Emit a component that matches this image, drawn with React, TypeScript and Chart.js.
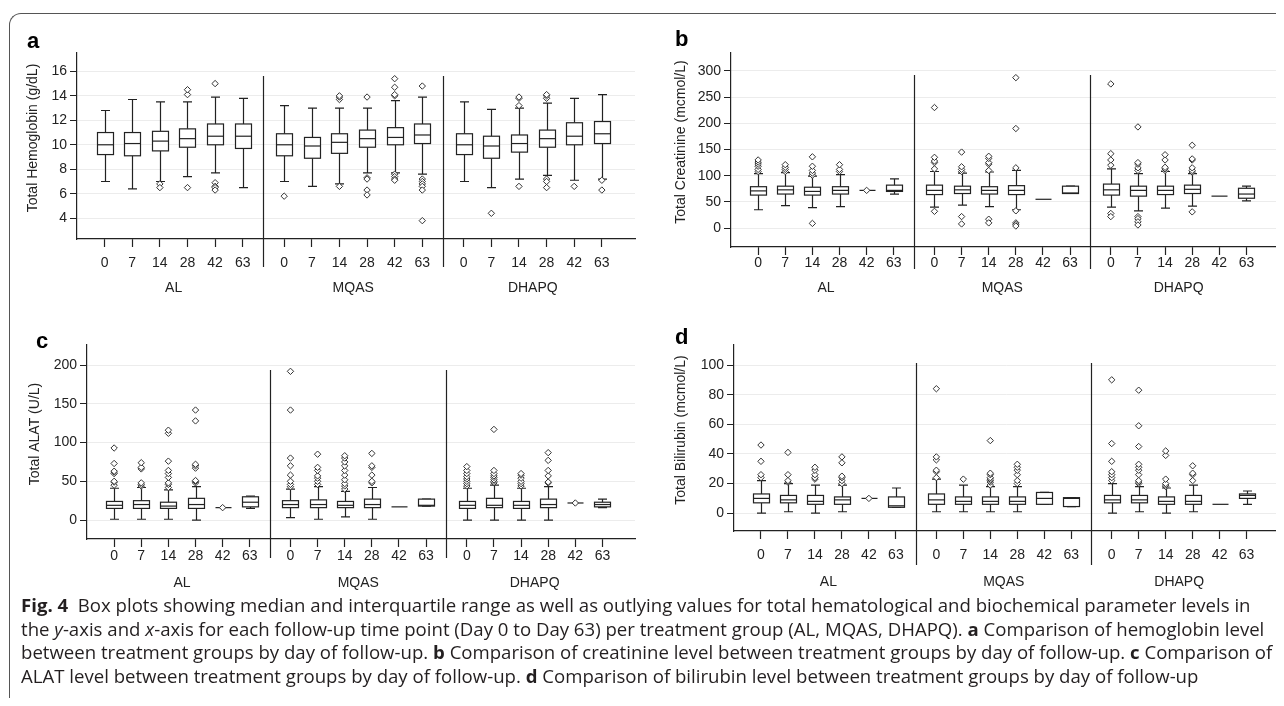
import React, { useEffect, useRef } from "react";
import { Chart, registerables } from "chart.js";

Chart.register(...registerables);

const days = ["0", "7", "14", "28", "42", "63"];
const groups = ["AL", "MQAS", "DHAPQ"];

// [min, q1, median, q3, max] for AL 0..63, MQAS 0..63, DHAPQ 0..63
const hemoglobinBoxes = [
  [7.0, 9.2, 10.0, 11.0, 12.8], [6.4, 9.1, 10.1, 11.0, 13.7], [7.0, 9.5, 10.3, 11.1, 13.5],
  [7.4, 9.8, 10.5, 11.3, 13.5], [7.7, 10.0, 10.7, 11.7, 13.9], [6.5, 9.7, 10.7, 11.7, 13.8],
  [7.0, 9.1, 10.0, 10.9, 13.2], [6.6, 8.9, 9.9, 10.6, 13.0], [6.8, 9.3, 10.2, 10.9, 13.0],
  [7.7, 9.8, 10.5, 11.2, 13.0], [7.7, 10.0, 10.6, 11.4, 13.6], [7.6, 10.1, 10.8, 11.7, 13.9],
  [7.0, 9.2, 10.0, 10.9, 13.5], [6.5, 8.9, 9.9, 10.7, 12.9], [7.2, 9.4, 10.1, 10.8, 13.0],
  [7.5, 9.8, 10.5, 11.2, 13.4], [7.1, 10.0, 10.7, 11.8, 13.8], [7.2, 10.1, 10.9, 11.9, 14.1],
];
const hemoglobinOutliers = [
  [], [], [6.8, 6.5], [14.1, 14.5, 6.5], [15.0, 6.9, 6.6, 6.5, 6.3], [],
  [5.8], [], [13.7, 13.9, 14.0, 6.6], [13.9, 7.3, 7.2, 6.3, 5.9], [14.0, 14.1, 14.7, 15.4, 7.6, 7.4, 7.2, 7.1], [14.8, 7.2, 7.0, 6.8, 6.6, 6.3, 3.8],
  [], [4.4], [13.2, 13.8, 13.9, 6.6], [13.8, 14.0, 14.1, 7.2, 7.0, 6.5], [6.6], [7.1, 6.3],
];

const creatinineBoxes = [
  [35, 63, 71, 79, 104], [43, 65, 73, 80, 106], [39, 63, 70, 78, 99],
  [41, 65, 72, 79, 102], [72, 72, 72, 72, 72], [65, 70, 72, 82, 94],
  [40, 64, 72, 82, 108], [44, 66, 73, 80, 105], [41, 65, 72, 79, 107],
  [35, 64, 72, 81, 110], [55, 55, 55, 55, 55], [66, 66, 67, 80, 80],
  [40, 63, 73, 84, 113], [33, 61, 72, 80, 104], [38, 64, 72, 80, 108],
  [42, 66, 74, 82, 104], [61, 61, 61, 61, 61], [52, 57, 65, 76, 80],
];
const creatinineOutliers = [
  [108, 112, 118, 122, 126, 130], [108, 112, 116, 121], [101, 105, 110, 118, 136, 9], [108, 112, 121], [72], [],
  [113, 125, 128, 135, 230, 32], [108, 112, 117, 145, 22, 8], [110, 122, 125, 133, 137, 17, 10], [115, 190, 287, 33, 10, 7, 4], [], [],
  [120, 130, 142, 275, 28, 22], [110, 115, 122, 125, 193, 22, 18, 12, 6], [110, 113, 116, 130, 140], [107, 110, 115, 130, 132, 158, 31], [], [],
];

const alatBoxes = [
  [1, 15, 19, 24, 41], [1, 15, 20, 25, 42], [1, 15, 18, 23, 39],
  [0, 15, 20, 28, 43], [16, 16, 16, 16, 16], [15, 17, 23, 30, 31],
  [3, 16, 20, 25, 40], [1, 16, 20, 26, 43], [4, 16, 19, 24, 37],
  [1, 16, 20, 27, 42], [17, 17, 17, 17, 17], [18, 18, 19, 27, 27],
  [0, 15, 19, 24, 41], [0, 16, 19, 28, 45], [0, 15, 19, 24, 41],
  [0, 16, 20, 27, 43], [22, 22, 22, 22, 22], [16, 17, 20, 23, 27],
];
const alatOutliers = [
  [45, 49, 50, 60, 62, 63, 73, 93], [44, 46, 48, 66, 68, 74], [42, 46, 48, 55, 60, 64, 76, 112, 116], [48, 50, 51, 67, 70, 72, 128, 142], [16], [],
  [43, 46, 50, 58, 70, 80, 142, 192], [46, 50, 54, 57, 64, 68, 85], [40, 44, 47, 52, 58, 64, 70, 75, 80, 83], [48, 50, 58, 68, 70, 86], [], [],
  [44, 47, 50, 53, 56, 60, 64, 69], [48, 50, 52, 55, 57, 60, 64, 117], [44, 47, 50, 54, 58, 60], [48, 49, 57, 64, 77, 87], [22], [],
];

const bilirubinBoxes = [
  [0, 7, 10, 13, 22], [1, 7, 9, 12, 20], [0, 6, 8, 12, 19],
  [1, 6, 9, 11, 19], [10, 10, 10, 10, 10], [4, 4, 5, 11, 17],
  [1, 6, 9, 13, 23], [1, 6, 8, 11, 19], [1, 6, 8, 11, 18],
  [1, 6, 8, 11, 18], [6, 6, 10, 14, 14], [4.5, 4.5, 10, 10.5, 10.5],
  [0, 7, 9, 12, 20], [1, 7, 9, 12, 18], [0, 6, 8, 11, 17],
  [1, 6, 8, 12, 19], [6, 6, 6, 6, 6], [6, 10, 12, 13, 15],
];
const bilirubinOutliers = [
  [24, 26, 35, 46], [21, 22, 26, 41], [23, 24, 26, 29, 31], [20, 22, 24, 25, 34, 38], [10], [],
  [24, 28, 29, 36, 38, 84], [23], [19, 21, 22, 23, 24, 26, 27, 49], [20, 22, 26, 29, 31, 33], [], [],
  [22, 24, 26, 28, 35, 47, 90], [20, 21, 22, 26, 29, 31, 33, 45, 59, 83], [18, 19, 20, 23, 39, 42], [22, 26, 27, 32], [], [],
];

const xPos = (k: number) => Math.floor(k / 6) * 6.5 + (k % 6);

type Panel = {
  letter: string;
  title: string;
  boxes: number[][];
  outliers: number[][];
  yTicks: number[];
  yMin: number;
  yMax: number;
  left: number; top: number; width: number; height: number;
  pad: { left: number; top: number; right: number; bottom: number };
  tickGap: number;
  groupY: number;
  divTop: number;
  divBottom: number;
  letterX: number;
  letterY: number;
  titleOffset: number;
};

const panels: Panel[] = [
  {
    letter: "a", title: "Total Hemoglobin (g/dL)", boxes: hemoglobinBoxes, outliers: hemoglobinOutliers,
    yTicks: [4, 6, 8, 10, 12, 14, 16], yMin: 2.3, yMax: 17.5,
    left: 0, top: 0, width: 640, height: 300,
    pad: { left: 77, top: 53, right: 637, bottom: 239 }, tickGap: 16, groupY: 288, divTop: 76, divBottom: 267,
    letterX: 27, letterY: 42, titleOffset: 44,
  },
  {
    letter: "b", title: "Total Creatinine (mcmol/L)", boxes: creatinineBoxes, outliers: creatinineOutliers,
    yTicks: [0, 50, 100, 150, 200, 250, 300], yMin: -36, yMax: 334,
    left: 640, top: 0, width: 644, height: 300,
    pad: { left: 91, top: 53, right: 639, bottom: 247 }, tickGap: 8, groupY: 288, divTop: 75, divBottom: 269,
    letterX: 35, letterY: 40, titleOffset: 50,
  },
  {
    letter: "c", title: "Total ALAT (U/L)", boxes: alatBoxes, outliers: alatOutliers,
    yTicks: [0, 50, 100, 150, 200], yMin: -24.5, yMax: 226,
    left: 0, top: 320, width: 640, height: 280,
    pad: { left: 87, top: 25, right: 637, bottom: 219 }, tickGap: 9, groupY: 263, divTop: 50, divBottom: 238,
    letterX: 36, letterY: 22, titleOffset: 52,
  },
  {
    letter: "d", title: "Total Bilirubin (mcmol/L)", boxes: bilirubinBoxes, outliers: bilirubinOutliers,
    yTicks: [0, 20, 40, 60, 80, 100], yMin: -12, yMax: 113.5,
    left: 640, top: 320, width: 644, height: 280,
    pad: { left: 94, top: 25, right: 639, bottom: 211 }, tickGap: 16, groupY: 262, divTop: 43, divBottom: 245,
    letterX: 35, letterY: 18, titleOffset: 53,
  },
];

const FONT = "'Liberation Sans', Arial, sans-serif";
const INK = "#222";

const PanelChart = ({ p }: { p: Panel }) => {
  const ref = useRef<HTMLCanvasElement | null>(null);

  useEffect(() => {
    if (!ref.current) return;
    const points: { x: number; y: number }[] = [];
    p.outliers.forEach((list, k) => list.forEach((v) => points.push({ x: xPos(k), y: v })));

    const boxPlugin = {
      id: "boxes",
      beforeDatasetsDraw(chart: any) {
        const { ctx, scales, chartArea } = chart;
        const xs = scales.x;
        const ys = scales.y;
        ctx.save();
        ctx.strokeStyle = INK;
        ctx.lineWidth = 1.2;
        ctx.fillStyle = "#fff";
        const hw = 8;
        const cap = 4.5;
        p.boxes.forEach(([mn, q1, md, q3, mx], k) => {
          const cx = Math.round(xs.getPixelForValue(xPos(k))) + 0.5;
          const yMn = ys.getPixelForValue(mn);
          const yQ1 = ys.getPixelForValue(q1);
          const yMd = ys.getPixelForValue(md);
          const yQ3 = ys.getPixelForValue(q3);
          const yMx = ys.getPixelForValue(mx);
          ctx.beginPath();
          if (q1 === q3) {
            ctx.moveTo(cx - hw, yMd);
            ctx.lineTo(cx + hw, yMd);
            ctx.stroke();
            return;
          }
          ctx.moveTo(cx, yQ1); ctx.lineTo(cx, yMn);
          ctx.moveTo(cx - cap, yMn); ctx.lineTo(cx + cap, yMn);
          ctx.moveTo(cx, yQ3); ctx.lineTo(cx, yMx);
          ctx.moveTo(cx - cap, yMx); ctx.lineTo(cx + cap, yMx);
          ctx.stroke();
          ctx.fillRect(cx - hw, yQ3, hw * 2, yQ1 - yQ3);
          ctx.strokeRect(cx - hw, yQ3, hw * 2, yQ1 - yQ3);
          ctx.beginPath();
          ctx.moveTo(cx - hw, yMd); ctx.lineTo(cx + hw, yMd);
          ctx.stroke();
        });
        // group dividers
        [5.75, 12.25].forEach((v) => {
          const x = Math.round(xs.getPixelForValue(v)) + 0.5;
          ctx.beginPath();
          ctx.moveTo(x, p.divTop);
          ctx.lineTo(x, p.divBottom);
          ctx.stroke();
        });
        // group labels
        ctx.fillStyle = INK;
        ctx.font = `14px ${FONT}`;
        ctx.textAlign = "center";
        ctx.textBaseline = "middle";
        groups.forEach((g, i) => {
          ctx.fillText(g, xs.getPixelForValue(i * 6.5 + 2.5), p.groupY);
        });
        // y title
        ctx.save();
        ctx.translate(chartArea.left - p.titleOffset, (chartArea.top + chartArea.bottom) / 2 - 8);
        ctx.rotate(-Math.PI / 2);
        ctx.fillText(p.title, 0, 0);
        ctx.restore();
        // panel letter
        ctx.font = `bold 22px ${FONT}`;
        ctx.textAlign = "left";
        ctx.fillStyle = "#000";
        ctx.fillText(p.letter, p.letterX, p.letterY);
        ctx.restore();
      },
    };

    const chart = new Chart(ref.current, {
      type: "scatter",
      data: {
        datasets: [
          {
            data: points,
            pointStyle: "rectRot",
            radius: 3.2,
            backgroundColor: "#fff",
            borderColor: "#333",
            borderWidth: 1,
          },
        ],
      },
      options: {
        animation: false,
        responsive: false,
        events: [],
        layout: {
          padding: { left: 0, top: p.pad.top, right: p.width - p.pad.right, bottom: 0 },
        },
        plugins: { legend: { display: false }, tooltip: { enabled: false } },
        scales: {
          x: {
            type: "linear",
            min: -1,
            max: 19.2,
            afterBuildTicks: (s: any) => {
              s.ticks = Array.from({ length: 18 }, (_, k) => ({ value: xPos(k) }));
            },
            afterFit: (s: any) => {
              s.height = p.height - p.pad.bottom;
            },
            ticks: {
              autoSkip: false,
              maxRotation: 0,
              padding: p.tickGap - 8,
              color: INK,
              font: { family: FONT, size: 14 },
              callback: (_v: any, i: number) => days[i % 6],
            },
            grid: { drawOnChartArea: false, drawTicks: true, tickLength: 8, tickColor: INK, tickWidth: 1.2 },
            border: { color: INK, width: 1.2 },
          },
          y: {
            min: p.yMin,
            max: p.yMax,
            afterBuildTicks: (s: any) => {
              s.ticks = p.yTicks.map((v) => ({ value: v }));
            },
            afterFit: (s: any) => {
              s.width = p.pad.left;
            },
            ticks: { color: INK, padding: 3, font: { family: FONT, size: 14 } },
            grid: { color: "#ececec", tickColor: INK, tickLength: 7, lineWidth: 1 },
            border: { color: INK, width: 1.2 },
          },
        },
      },
      plugins: [boxPlugin],
    } as any);

    return () => chart.destroy();
  }, [p]);

  return (
    <canvas
      ref={ref}
      width={p.width}
      height={p.height}
      style={{ position: "absolute", left: p.left, top: p.top, width: p.width, height: p.height }}
    />
  );
};

const App = () => {
  return (
    <div style={{ position: "relative", width: 1284, height: 706, overflow: "hidden", margin: -8, background: "#fff" }}>
      <div
        style={{
          position: "absolute", left: 9, top: 13, width: 1300, height: 720,
          borderTop: "1.5px solid #555", borderLeft: "1.5px solid #555", borderTopLeftRadius: 12,
        }}
      />
      {panels.map((p) => (
        <PanelChart key={p.letter} p={p} />
      ))}
      <div
        style={{
          position: "absolute", left: 21, top: 593, width: 1260, fontFamily: "'Open Sans', 'Noto Sans', sans-serif",
          fontSize: 18.6, lineHeight: "23.5px", color: "#231f20", whiteSpace: "nowrap",
        }}
      >
        <b>Fig. 4</b>&nbsp; Box plots showing median and interquartile range as well as outlying values for total hematological and biochemical parameter levels in
        <br />
        the <i>y</i>-axis and <i>x</i>-axis for each follow-up time point (Day 0 to Day 63) per treatment group (AL, MQAS, DHAPQ). <b>a</b> Comparison of hemoglobin level
        <br />
        between treatment groups by day of follow-up. <b>b</b> Comparison of creatinine level between treatment groups by day of follow-up. <b>c</b> Comparison of
        <br />
        ALAT level between treatment groups by day of follow-up. <b>d</b> Comparison of bilirubin level between treatment groups by day of follow-up
      </div>
    </div>
  );
};

export default App;
